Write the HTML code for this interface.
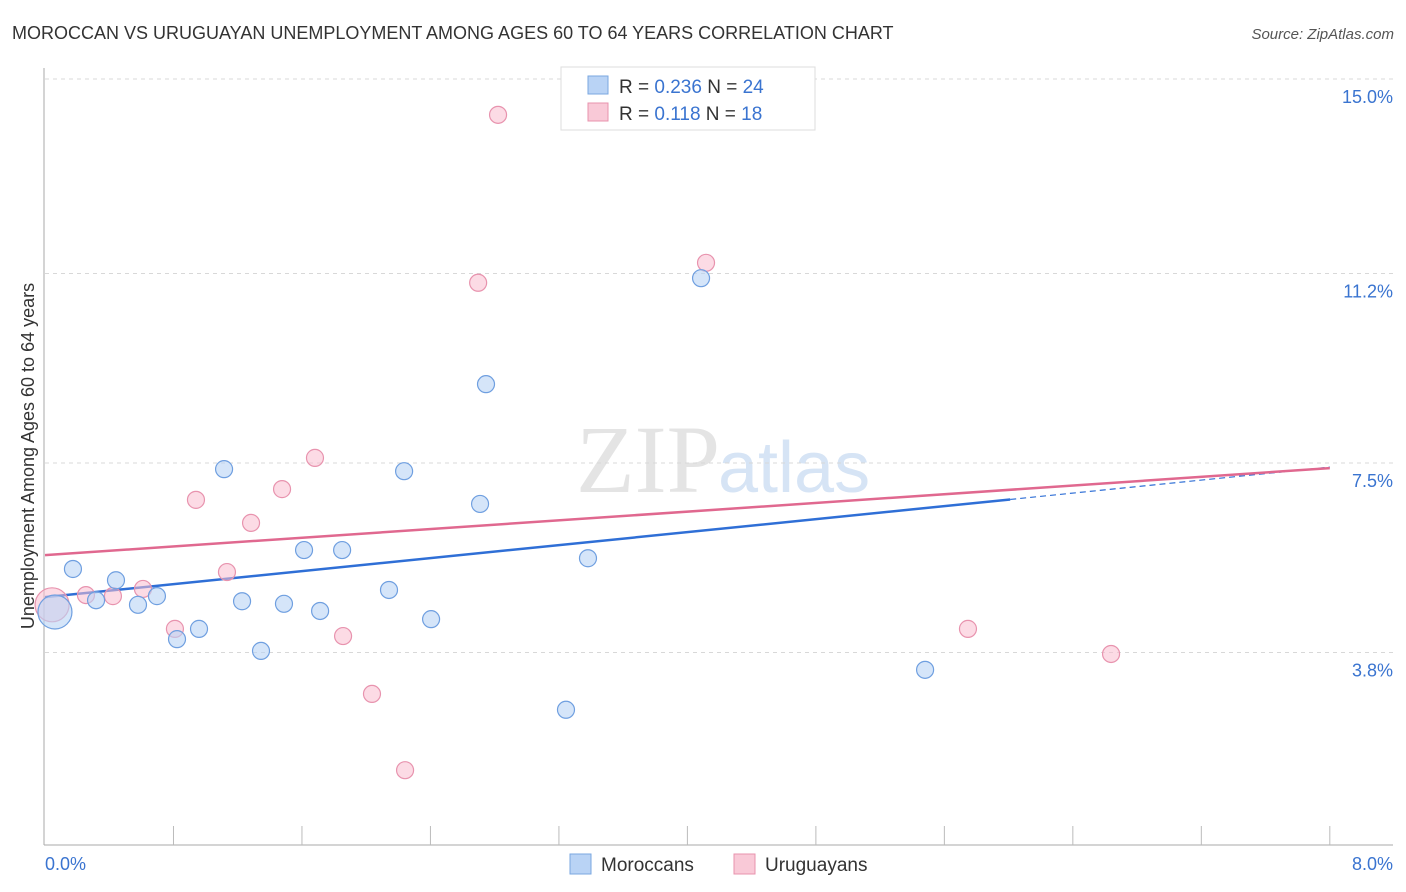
<!DOCTYPE html>
<html><head><meta charset="utf-8"><style>
body{margin:0;background:#fff;font-family:"Liberation Sans",sans-serif}
svg{display:block}
</style></head><body>
<svg id="c" width="1406" height="892" xmlns="http://www.w3.org/2000/svg">
<text x="12" y="39" font-size="18" fill="#333">MOROCCAN VS URUGUAYAN UNEMPLOYMENT AMONG AGES 60 TO 64 YEARS CORRELATION CHART</text>
<text x="1394" y="39" font-size="15" fill="#555" text-anchor="end" font-style="italic">Source: ZipAtlas.com</text>
<text x="720" y="492" font-size="96" fill="#e4e4e4" text-anchor="end" font-family="Liberation Serif,serif">ZIP</text>
<text x="718" y="492" font-size="72" fill="#d6e4f5">atlas</text>
<text transform="translate(34,456) rotate(-90)" font-size="18" fill="#333" text-anchor="middle">Unemployment Among Ages 60 to 64 years</text>
<g id="grid"></g><g id="axes"></g><g id="lines"></g><g id="pts"></g>
<g>
<rect x="561" y="67" width="254" height="63" fill="#fff" stroke="#ddd"/>
<rect x="588" y="76" width="20" height="18" fill="#b9d3f5" stroke="#7aa7e0"/>
<rect x="588" y="103" width="20" height="18" fill="#f9c9d7" stroke="#e893ae"/>
<text x="619" y="93" font-size="19" fill="#333">R = <tspan fill="#3a74d0">0.236</tspan>   N = <tspan fill="#3a74d0">24</tspan></text>
<text x="619" y="120" font-size="19" fill="#333">R =  <tspan fill="#3a74d0">0.118</tspan>   N =  <tspan fill="#3a74d0">18</tspan></text>
</g>
<g>
<rect x="570" y="854" width="21" height="20" fill="#b9d3f5" stroke="#7aa7e0"/>
<text x="601" y="871" font-size="19" fill="#333">Moroccans</text>
<rect x="734" y="854" width="21" height="20" fill="#f9c9d7" stroke="#e893ae"/>
<text x="765" y="871" font-size="19" fill="#333">Uruguayans</text>
</g>
</svg>
<script>
const blueX=[0.062,0.174,0.318,0.442,0.579,0.697,0.822,0.959,1.115,1.227,1.345,1.488,1.613,1.713,1.850,2.142,2.236,2.404,2.709,2.746,3.244,3.381,4.085,5.480];
const blueY=[4.59,5.43,4.82,5.21,4.73,4.90,4.06,4.26,7.38,4.80,3.83,4.75,5.80,4.61,5.80,5.02,7.34,4.45,6.70,9.04,2.68,5.64,11.11,3.46];
const pinkX=[0.044,0.255,0.423,0.610,0.809,0.940,1.133,1.283,1.476,1.681,1.856,2.036,2.242,2.697,2.821,4.116,5.747,6.638];
const pinkY=[4.73,4.92,4.90,5.04,4.26,6.78,5.37,6.33,6.99,7.60,4.12,2.99,1.50,11.02,14.30,11.41,4.26,3.77];
const blueTrend=[4.88,7.42];
const pinkTrend=[5.70,7.40];
const yTicks=[15.0,11.2,7.5,3.8];
const yTickLabels=["15.0%","11.2%","7.5%","3.8%"];
const X=v=>45+v*160.6, Y=v=>847-v*51.2;
const NS="http://www.w3.org/2000/svg";
function mk(t,a,p){const e=document.createElementNS(NS,t);for(const k in a)e.setAttribute(k,a[k]);p.appendChild(e);return e;}
const g=document.getElementById('grid'),ax=document.getElementById('axes'),ln=document.getElementById('lines'),pt=document.getElementById('pts');
yTicks.forEach((v,i)=>{
 const l=mk('line',{x1:45,x2:1393,y1:Y(v),y2:Y(v),stroke:'#d8d8d8','stroke-dasharray':'4,4'},g);
 
 const t=mk('text',{x:1393,y:Y(v)+24,'font-size':18,fill:'#3a74d0','text-anchor':'end'},g);t.textContent=yTickLabels[i];
 
});
let a=mk('line',{x1:44,x2:44,y1:68,y2:845,stroke:'#aaa'},ax);
a=mk('line',{x1:44,x2:1393,y1:845,y2:845,stroke:'#aaa'},ax);
for(let i=1;i<=10;i++){const t=mk('line',{x1:X(i*0.8),x2:X(i*0.8),y1:826,y2:845,stroke:'#bbb'},ax);}
let t=mk('text',{x:45,y:870,'font-size':18,fill:'#3a74d0'},ax);t.textContent='0.0%';
t=mk('text',{x:1393,y:870,'font-size':18,fill:'#3a74d0','text-anchor':'end'},ax);t.textContent='8.0%';
function pts(xs,ys,fill,stroke,name){xs.forEach((x,i)=>{const c=mk('circle',{cx:X(x),cy:Y(ys[i]),r:i==0?17:8.5,fill:fill,stroke:stroke,'stroke-width':1.2},pt);
 });}
pts(pinkX,pinkY,'rgba(249,190,208,0.55)','#e893ae','uruguayan-point');
pts(blueX,blueY,'rgba(185,211,245,0.6)','#6f9fe0','moroccan-point');
const bAt=x=>blueTrend[0]+(blueTrend[1]-blueTrend[0])*x/8, pAt=x=>pinkTrend[0]+(pinkTrend[1]-pinkTrend[0])*x/8;
let l=mk('line',{x1:X(0),y1:Y(bAt(0)),x2:X(6.01),y2:Y(bAt(6.01)),stroke:'#2f6fd6','stroke-width':2.5},ln);
l=mk('line',{x1:X(6.01),y1:Y(bAt(6.01)),x2:X(8),y2:Y(bAt(8)),stroke:'#2f6fd6','stroke-width':1.2,'stroke-dasharray':'6,4'},ln);
l=mk('line',{x1:X(0),y1:Y(pAt(0)),x2:X(8),y2:Y(pAt(8)),stroke:'#e0688f','stroke-width':2.5},ln);
</script>
</body></html>
